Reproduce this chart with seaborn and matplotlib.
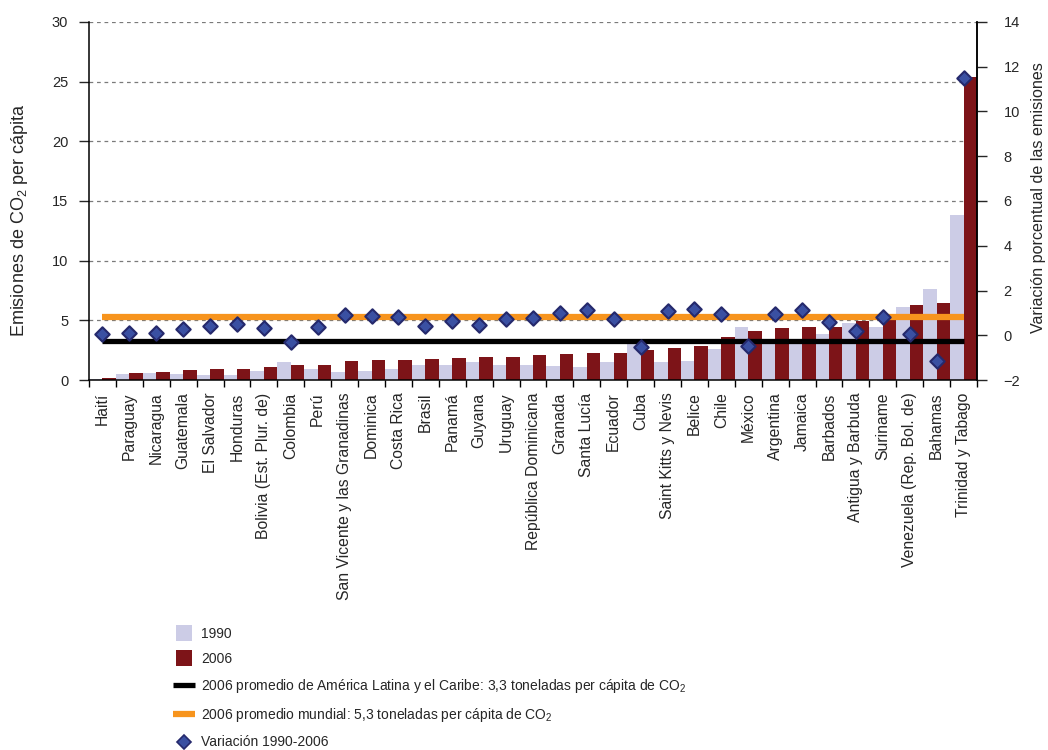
import numpy as np
import pandas as pd
import matplotlib
matplotlib.use("Agg")
import matplotlib.pyplot as plt
import seaborn as sns
from matplotlib.lines import Line2D

# Datos
paises = [
    "Haití", "Paraguay", "Nicaragua", "Guatemala", "El Salvador", "Honduras",
    "Bolivia (Est. Plur. de)", "Colombia", "Perú", "San Vicente y las Granadinas",
    "Dominica", "Costa Rica", "Brasil", "Panamá", "Guyana", "Uruguay",
    "República Dominicana", "Granada", "Santa Lucía", "Ecuador", "Cuba",
    "Saint Kitts y Nevis", "Belice", "Chile", "México", "Argentina", "Jamaica",
    "Barbados", "Antigua y Barbuda", "Suriname", "Venezuela (Rep. Bol. de)",
    "Bahamas", "Trinidad y Tabago",
]
emis_1990 = [0.1, 0.5, 0.6, 0.5, 0.42, 0.42, 0.76, 1.51, 0.92, 0.67,
             0.76, 0.92, 1.26, 1.26, 1.51, 1.26, 1.26, 1.18, 1.09, 1.51,
             3.2, 1.52, 1.61, 2.6, 4.47, 3.4, 3.3, 3.85, 4.78, 4.48,
             6.15, 7.65, 13.8]
emis_2006 = [0.2, 0.6, 0.7, 0.84, 0.92, 0.92, 1.09, 1.26, 1.26, 1.6,
             1.68, 1.68, 1.76, 1.85, 1.93, 1.93, 2.1, 2.18, 2.27, 2.3,
             2.52, 2.69, 2.86, 3.61, 4.12, 4.37, 4.45, 4.45, 4.92, 5.04,
             6.32, 6.47, 25.35]
variacion = [0.04, 0.09, 0.09, 0.3, 0.42, 0.49, 0.34, -0.3, 0.37, 0.9,
             0.86, 0.8, 0.43, 0.64, 0.46, 0.74, 0.77, 1.01, 1.12, 0.73,
             -0.54, 1.08, 1.19, 0.94, -0.48, 0.95, 1.12, 0.58, 0.19, 0.83,
             0.07, -1.15, 11.48]
prom_alc = 3.3
prom_mundial = 5.3

c_1990 = "#CCCCE6"
c_2006 = "#7D1418"
c_alc = "#000000"
c_mundial = "#F7941D"
c_diam = "#3A50A2"
c_diam_borde = "#25296C"

sns.set_style("ticks")
plt.rcParams["font.family"] = ["Liberation Sans", "DejaVu Sans"]
plt.rcParams["mathtext.fontset"] = "custom"
plt.rcParams["mathtext.rm"] = "Liberation Sans"
plt.rcParams["mathtext.it"] = "Liberation Sans:italic"
plt.rcParams["font.size"] = 10

n = len(paises)
df = pd.DataFrame({
    "pais": paises * 2,
    "anio": ["1990"] * n + ["2006"] * n,
    "valor": emis_1990 + emis_2006,
})

fig = plt.figure(figsize=(10.48, 7.5), dpi=100)
ax = fig.add_axes([0.0849, 0.4933, 0.8474, 0.4774])

sns.barplot(data=df, x="pais", y="valor", hue="anio",
            palette={"1990": c_1990, "2006": c_2006}, width=1.0, gap=0,
            saturation=1, linewidth=0, legend=False, ax=ax, zorder=2)

x = np.arange(n)
ax.plot([x[0], x[-1]], [prom_mundial] * 2, color=c_mundial, lw=4.5,
        solid_capstyle="butt", zorder=3)
ax.plot([x[0], x[-1]], [prom_alc] * 2, color=c_alc, lw=3.8,
        solid_capstyle="butt", zorder=3)

ax.set_ylim(0, 30)
ax.set_yticks(range(0, 31, 5))
ax.set_xlim(-0.5, n - 0.5)
ax.set_xticks(x)
ax.set_xticklabels(paises, rotation=90, fontsize=11.3)
ax.set_xticks(np.arange(n + 1) - 0.5, minor=True)
ax.tick_params(axis="x", which="major", length=0, pad=9)
ax.tick_params(axis="x", which="minor", length=5, width=1, color="black")
ax.tick_params(axis="y", length=7, width=1, direction="out", pad=8,
               labelsize=10.5)
ax.set_xlabel("")
ax.set_ylabel("Emisiones de CO$_\\mathregular{2}$ per cápita", fontsize=13)
ax.yaxis.set_label_coords(-0.066, 0.447)
ax.set_axisbelow(True)
ax.yaxis.grid(True, linestyle=(0, (3, 3)), color="#7A7A7A", lw=0.9)
ax.spines["top"].set_visible(False)
for s in ["left", "bottom", "right"]:
    ax.spines[s].set_linewidth(1.1)
    ax.spines[s].set_color("black")

ax2 = ax.twinx()
sns.scatterplot(x=x, y=variacion, ax=ax2, marker="D", s=54, color=c_diam,
                edgecolor=c_diam_borde, linewidth=1.5, zorder=5, legend=False)
ax2.set_ylim(-2, 14)
ax2.set_yticks(range(-2, 15, 2))
ax2.tick_params(axis="y", length=7, width=1, direction="out", pad=12,
                labelsize=10.5)
ax2.set_ylabel("Variación porcentual de las emisiones", fontsize=11.6)
ax2.yaxis.set_label_coords(1.061, 0.51)
for s in ["top", "left", "bottom"]:
    ax2.spines[s].set_visible(False)
ax2.spines["right"].set_linewidth(1.1)
ax2.spines["right"].set_color("black")
ax2.set_xlim(-0.5, n - 0.5)

# Leyenda
handles = [
    Line2D([], [], marker="s", linestyle="none", markersize=11,
           markerfacecolor=c_1990, markeredgewidth=0),
    Line2D([], [], marker="s", linestyle="none", markersize=11,
           markerfacecolor=c_2006, markeredgewidth=0),
    Line2D([], [], color=c_alc, lw=3.8, solid_capstyle="butt"),
    Line2D([], [], color=c_mundial, lw=4.5, solid_capstyle="butt"),
    Line2D([], [], marker="D", linestyle="none", markersize=6.8,
           markerfacecolor=c_diam, markeredgecolor=c_diam_borde,
           markeredgewidth=1.2),
]
labels = [
    "1990",
    "2006",
    "2006 promedio de América Latina y el Caribe: 3,3 toneladas per cápita de CO$_\\mathregular{2}$",
    "2006 promedio mundial: 5,3 toneladas per cápita de CO$_\\mathregular{2}$",
    "Variación 1990-2006",
]
fig.legend(handles, labels, loc="upper left", bbox_to_anchor=(0.165, 0.164),
           frameon=False, fontsize=10, handlelength=1.6, handletextpad=0.45,
           labelspacing=0.8, borderpad=0, borderaxespad=0)

fig.savefig("out.png", dpi=100)
